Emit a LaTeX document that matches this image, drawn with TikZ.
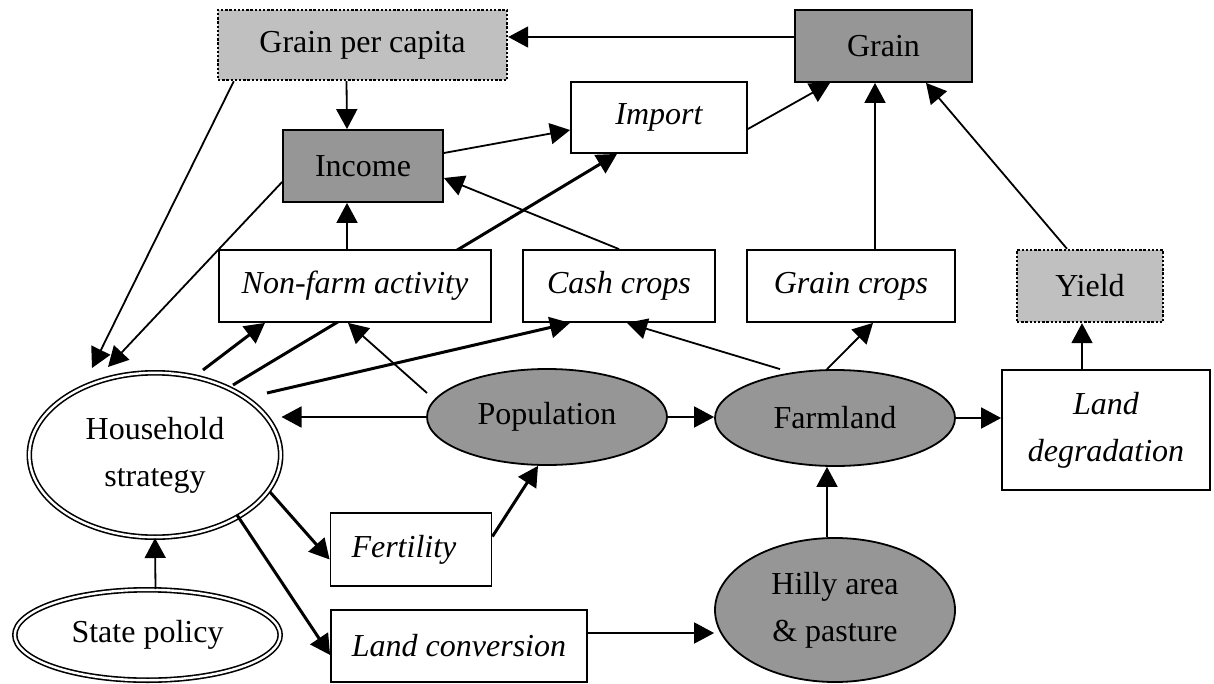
\documentclass[tikz,border=0pt]{standalone}
\usepackage{fontspec}
\setmainfont{Liberation Serif}
\usetikzlibrary{shapes.geometric,arrows.meta,backgrounds}
\definecolor{darkshade}{RGB}{150,150,150}
\definecolor{lightshade}{RGB}{192,192,192}
\newcommand{\nodefont}{\fontsize{16}{23.5}\selectfont}
\tikzset{
  box/.style={draw, line width=0.9pt, fill=white, inner sep=0pt, align=center, font=\nodefont\itshape},
  shadebox/.style={box, fill=darkshade, font=\nodefont},
  dotbox/.style={box, fill=lightshade, line width=1.2pt, dash pattern=on 1.2pt off 0.9pt, font=\nodefont},
  oval/.style={ellipse, draw, line width=0.9pt, fill=darkshade, inner sep=0pt, align=center, font=\nodefont},
  dbloval/.style={ellipse, draw, double, double distance=1.2pt, line width=0.8pt, inner sep=0pt, align=center, font=\nodefont},
  arr/.style={-{Triangle[length=10pt,width=10.5pt]}, line width=0.9pt},
  thickarr/.style={arr, line width=1.5pt}
}
\begin{document}
\begin{tikzpicture}[x=0.5pt,y=-0.5pt]
  \useasboundingbox (0,0) rectangle (1214,684);
  % boxes and ovals
  \node[dotbox, minimum width=144.5pt, minimum height=35pt] (gpc) at (362.5,45) {Grain per capita};
  \node[shadebox, minimum width=88.5pt, minimum height=36pt] (grain) at (883.5,46) {Grain};
  \node[box, minimum width=88pt, minimum height=35.5pt] (import) at (659,117.5) {Import};
  \node[shadebox, minimum width=80pt, minimum height=36pt] (income) at (363,166) {Income};
  \node[box, minimum width=136pt, minimum height=36pt] (nonfarm) at (355,286) {Non-farm activity};
  \node[box, minimum width=96pt, minimum height=36pt] (cash) at (619,286) {Cash crops};
  \node[box, minimum width=104pt, minimum height=36pt] (graincrops) at (851,286) {Grain crops};
  \node[dotbox, minimum width=73pt, minimum height=36pt] (yield) at (1090,286) {Yield};
  \node[box, minimum width=104pt, minimum height=60pt] (landdeg) at (1106,430) {Land\\degradation};
  \node[oval, minimum width=120pt, minimum height=48pt] (population) at (547,417) {Population};
  \node[oval, minimum width=120pt, minimum height=48pt] (farmland) at (835,418) {Farmland};
  \node[oval, minimum width=120pt, minimum height=72pt] (hilly) at (835,610) {Hilly area\\\& pasture};
  \node[dbloval, minimum width=125.7pt, minimum height=82.2pt] (household) at (155,455) {Household\\strategy};
  \node[dbloval, minimum width=132.7pt, minimum height=45.2pt] (state) at (147.5,635) {State policy};
  \node[box, inner xsep=10.5pt, text width=59.5pt, align=left, minimum height=36.5pt] (fertility) at (411,549.5) {Fertility};
  \node[box, minimum width=128pt, minimum height=36pt] (landconv) at (459,646) {Land conversion};
  % links
  \draw[arr] ([yshift=4.5pt]grain.west) -- ([yshift=4pt]gpc.east);
  \draw[arr] ([xshift=-8pt]gpc.south) -- ([xshift=-8pt]income.north);
  \draw[arr] ([xshift=8.5pt]gpc.south west) -- ([shift={(-31.5pt,43.5pt)}]household.center);
  \draw[arr] ([yshift=-8pt]income.west) -- ([shift={(-23.5pt,44pt)}]household.center);
  \draw[arr] ([xshift=-4pt]nonfarm.north) -- ([xshift=-8pt]income.south);
  \draw[arr] ([yshift=6.5pt]income.east) -- ([yshift=-6.25pt]import.west);
  \draw[arr] (cash.north) -- ([yshift=-6pt]income.east);
  \draw[arr] ([yshift=-5.75pt]import.east) -- ([xshift=-26.75pt]grain.south);
  \draw[arr] ([xshift=12pt]graincrops.north) -- ([xshift=-4.25pt]grain.south);
  \draw[arr] ([xshift=-11.5pt]yield.north) -- ([xshift=21.25pt]grain.south);
  \draw[arr] ([xshift=-12pt]landdeg.north) -- ([xshift=-4pt]yield.south);
  \draw[arr] (farmland.east) -- (farmland.east -| landdeg.west);
  \draw[arr] (population.east) -- (population.east -| farmland.west);
  \draw[arr] (population.west) -- (population.west -| household.east);
  \draw[arr] ([shift={(-60pt,12pt)}]population.center) -- ([xshift=-3.5pt]nonfarm.south);
  \draw[arr] ([xshift=-27.5pt]farmland.north) -- ([xshift=4pt]cash.south);
  \draw[arr] ([xshift=-4pt]farmland.north) -- ([xshift=11pt]graincrops.south);
  \draw[arr] ([xshift=-4pt]hilly.north) -- ([xshift=-4pt]farmland.south);
  \draw[arr] ([yshift=6.5pt]landconv.east) -- ([yshift=6.5pt]landconv.east -| hilly.west);
  \draw[arr] ([xshift=4pt]state.north) -- (household.south);
  % household strategy links
  \draw[thickarr] ([shift={(24pt,42.5pt)}]household.center) -- ([xshift=-45pt]nonfarm.south);
  \draw[thickarr] ([shift={(56pt,31pt)}]household.center) -- ([xshift=-24.5pt]cash.south);
  \draw[thickarr] ([shift={(57.5pt,-18.5pt)}]household.center) -- ([yshift=-5pt]fertility.west);
  \draw[thickarr] ([shift={(41pt,-30pt)}]household.center) -- ([yshift=-4.5pt]landconv.west);
  \draw[thickarr] ([yshift=6.5pt]fertility.east) -- ([xshift=-4.5pt]population.south);
  \begin{scope}[on background layer]
    \draw[thickarr] ([shift={(39pt,35pt)}]household.center) -- ([xshift=-21pt]import.south);
  \end{scope}
\end{tikzpicture}
\end{document}
